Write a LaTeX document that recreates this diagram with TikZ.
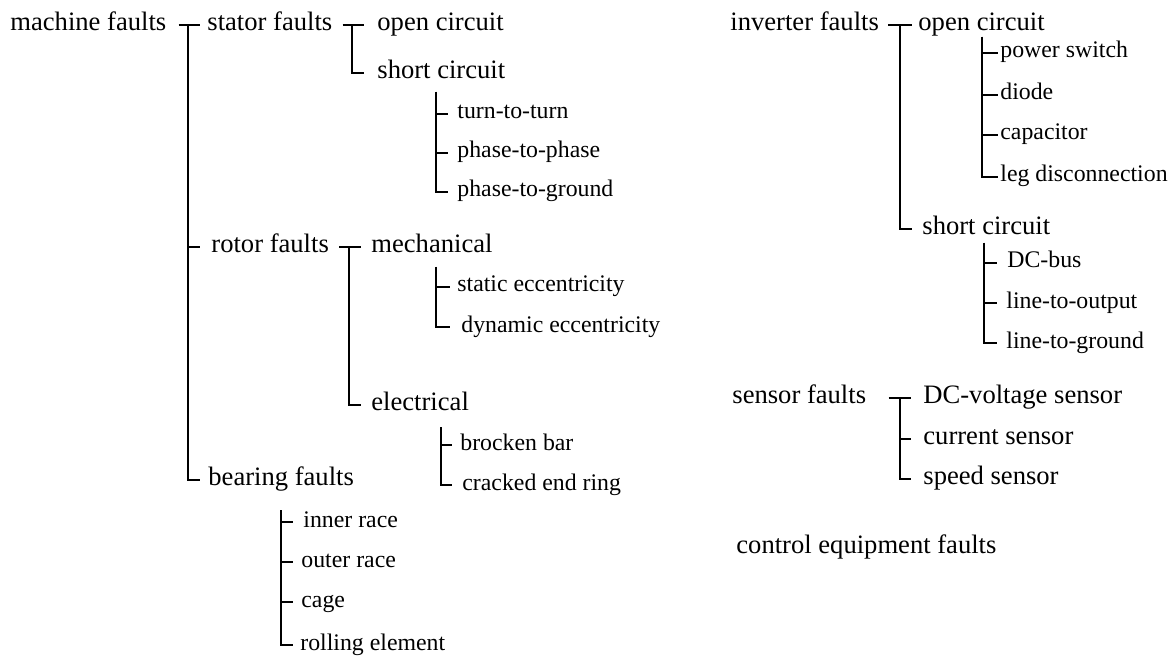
\documentclass[tikz,border=0pt]{standalone}
\usepackage{fontspec}
\setmainfont{Liberation Serif}
\usetikzlibrary{positioning}

\begin{document}
\begin{tikzpicture}[
    x=0.5pt, y=-0.5pt,
    big/.style={anchor=west, inner sep=0pt, font=\fontsize{13.3}{16}\selectfont, text height=8.6pt, text depth=3pt},
    small/.style={anchor=west, inner sep=0pt, font=\fontsize{11.9}{14}\selectfont, text height=7.6pt, text depth=2.6pt},
    branch/.style={line width=1pt}
]
\useasboundingbox (0,0) rectangle (1176,657);

% Nodes -- machine side
\node (machine) [big] at (10,25) {machine faults};
\node (stator) [big] at (207,25) {stator faults};
\node (stopen) [big] at (377,25) {open circuit};
\node (stshort) [big] at (377,73) {short circuit};
\node (turn) [small] at (457,114) {turn-to-turn};
\node (phph) [small] at (457,153) {phase-to-phase};
\node (phgnd) [small] at (457,192) {phase-to-ground};

\node (rotor) [big] at (211,247) {rotor faults};
\node (mech) [big] at (371,247) {mechanical};
\node (static) [small] at (457,287) {static eccentricity};
\node (dynamic) [small] at (461,327) {dynamic eccentricity};
\node (elec) [big] at (371,405) {electrical};
\node (bar) [small] at (460,445) {brocken bar};
\node (ring) [small] at (462,485) {cracked end ring};

\node (bearing) [big] at (208,480) {bearing faults};
\node (inner) [small] at (303,522) {inner race};
\node (outer) [small] at (301,562) {outer race};
\node (cage) [small] at (301,602) {cage};
\node (rolling) [small] at (300,645) {rolling element};

% Nodes -- inverter, sensor, control
\node (inverter) [big] at (730,25) {inverter faults};
\node (invopen) [big] at (918,25) {open circuit};
\node (switch) [small] at (1000,53) {power switch};
\node (diode) [small] at (1000,95) {diode};
\node (cap) [small] at (1000,135) {capacitor};
\node (leg) [small] at (1000,177) {leg disconnection};
\node (invshort) [big] at (922,229) {short circuit};
\node (dcbus) [small] at (1007,263) {DC-bus};
\node (output) [small] at (1006,303) {line-to-output};
\node (ground) [small] at (1006,343) {line-to-ground};

\node (sensor) [big] at (732,398) {sensor faults};
\node (voltage) [big] at (923,398) {DC-voltage sensor};
\node (current) [big] at (923,439) {current sensor};
\node (speed) [big] at (923,479) {speed sensor};

\node (control) [big] at (736,548) {control equipment faults};

% Bar tops and tick ends
\coordinate (machinebar) at (188,25);   \coordinate (machineend) at (200,0);
\coordinate (statorbar) at (352,25);    \coordinate (statorend) at (364,0);
\coordinate (stshortbar) at (436,92);   \coordinate (stshortend) at (448,0);
\coordinate (rotorbar) at (349,247);    \coordinate (rotorend) at (361,0);
\coordinate (mechbar) at (436,267);     \coordinate (mechend) at (450,0);
\coordinate (elecbar) at (441,427);     \coordinate (elecend) at (452,0);
\coordinate (bearingbar) at (281,510);  \coordinate (bearingend) at (293,0);
\coordinate (inverterbar) at (900,25);  \coordinate (inverterend) at (912,0);
\coordinate (invopenbar) at (982,37);   \coordinate (invopenend) at (998,0);
\coordinate (invshortbar) at (984,243); \coordinate (invshortend) at (997,0);
\coordinate (sensorbar) at (900,398);   \coordinate (sensorend) at (911,0);

% Edges
\draw [branch] ([xshift=6pt]machine.east) -- (machineend |- stator.west);
\foreach \n in {rotor, bearing}
    \draw [branch] (machinebar) |- (machineend |- \n.west);

\draw [branch] ([xshift=5pt]stator.east) -- (statorend |- stopen.west);
\draw [branch] (statorbar) |- (statorend |- stshort.west);
\foreach \n in {turn, phph, phgnd}
    \draw [branch] (stshortbar) |- (stshortend |- \n.west);

\draw [branch] ([xshift=5pt]rotor.east) -- (rotorend |- mech.west);
\draw [branch] (rotorbar) |- (rotorend |- elec.west);
\foreach \n in {static, dynamic}
    \draw [branch] (mechbar) |- (mechend |- \n.west);
\foreach \n in {bar, ring}
    \draw [branch] (elecbar) |- (elecend |- \n.west);

\foreach \n in {inner, outer, cage, rolling}
    \draw [branch] (bearingbar) |- (bearingend |- \n.west);

\draw [branch] ([xshift=4.5pt]inverter.east) -- (inverterend |- invopen.west);
\draw [branch] (inverterbar) |- (inverterend |- invshort.west);
\foreach \n in {switch, diode, cap, leg}
    \draw [branch] (invopenbar) |- (invopenend |- \n.west);
\foreach \n in {dcbus, output, ground}
    \draw [branch] (invshortbar) |- (invshortend |- \n.west);

\draw [branch] ([xshift=11pt]sensor.east) -- (sensorend |- voltage.west);
\foreach \n in {current, speed}
    \draw [branch] (sensorbar) |- (sensorend |- \n.west);

\end{tikzpicture}
\end{document}
